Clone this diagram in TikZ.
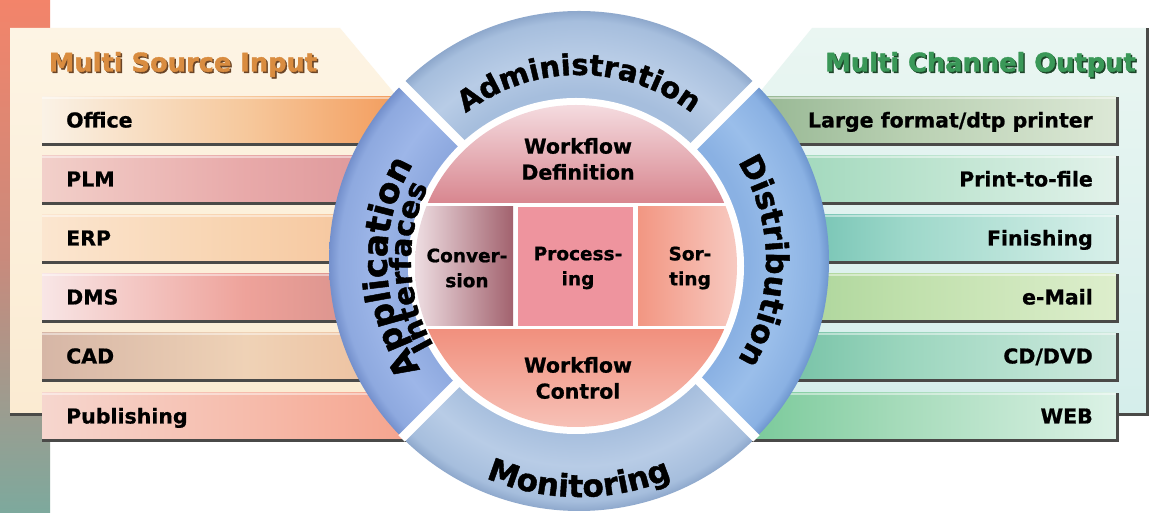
\documentclass[tikz,border=0pt]{standalone}
\usepackage{fontspec}
\usetikzlibrary{decorations.text}
\newfontfamily\djv{DejaVu Sans}[BoldFeatures={FakeBold=0.8}]
\newfontfamily\djvh{DejaVu Sans}[BoldFeatures={FakeBold=1.4}]
\newcommand\fbar{\djv\bfseries\fontsize{20.5}{26}\selectfont}
\newcommand\fmid{\djv\bfseries\fontsize{18.5}{25}\selectfont}
\newcommand\fttl{\djvh\bfseries\fontsize{25.7}{30}\selectfont}
\newcommand\fadm{\djvh\bfseries\fontsize{29}{30}\selectfont}
\newcommand\fmon{\djvh\bfseries\fontsize{31}{32}\selectfont}
\newcommand\fdis{\djvh\bfseries\fontsize{31}{32}\selectfont}
\newcommand\fapp{\djvh\bfseries\fontsize{34}{35}\selectfont}
\newcommand\fint{\djvh\bfseries\fontsize{29}{30}\selectfont}
% colours
\definecolor{stripeT}{HTML}{F3846A}\definecolor{stripeM}{HTML}{C98A7C}\definecolor{stripeB}{HTML}{7DA99D}
\definecolor{lpanT}{HTML}{FDF4E4}\definecolor{lpanB}{HTML}{FBEBD2}
\definecolor{rpanT}{HTML}{EAF6F2}\definecolor{rpanB}{HTML}{D5EEEB}
\definecolor{barsh}{HTML}{4A4A48}
\definecolor{srcC}{HTML}{D98C40}\definecolor{srcS}{HTML}{6A4426}
\definecolor{outC}{HTML}{3A9858}\definecolor{outS}{HTML}{1C4428}
% left bars
\definecolor{ofA}{HTML}{FAF2E6}\definecolor{ofB}{HTML}{F6C89C}\definecolor{ofC}{HTML}{F28E48}
\definecolor{plA}{HTML}{F2D0CA}\definecolor{plB}{HTML}{E8A9A9}\definecolor{plC}{HTML}{D88E92}
\definecolor{erA}{HTML}{FBE6D0}\definecolor{erB}{HTML}{F8D2AE}\definecolor{erC}{HTML}{F4BC90}
\definecolor{dmA}{HTML}{F8E6E6}\definecolor{dmB}{HTML}{EEA29A}\definecolor{dmC}{HTML}{C98682}
\definecolor{caA}{HTML}{D6B6A6}\definecolor{caB}{HTML}{EFD2B6}\definecolor{caC}{HTML}{ECB894}
\definecolor{puA}{HTML}{F6D6CE}\definecolor{puB}{HTML}{F6BCAC}\definecolor{puC}{HTML}{F59E86}
% right bars
\definecolor{lfA}{HTML}{8AAE88}\definecolor{lfB}{HTML}{B9D0B2}\definecolor{lfC}{HTML}{DCE8D6}
\definecolor{ptA}{HTML}{8FD0B0}\definecolor{ptB}{HTML}{B8E2CC}\definecolor{ptC}{HTML}{E2F2EA}
\definecolor{fiA}{HTML}{4AAE9C}\definecolor{fiB}{HTML}{9ED8CA}\definecolor{fiC}{HTML}{D8F0EA}
\definecolor{emA}{HTML}{9CCC8C}\definecolor{emB}{HTML}{C0E0AC}\definecolor{emC}{HTML}{DDEECC}
\definecolor{cdA}{HTML}{5CB496}\definecolor{cdB}{HTML}{9CD6BE}\definecolor{cdC}{HTML}{CFEADF}
\definecolor{weA}{HTML}{6CC490}\definecolor{weB}{HTML}{A8DCBC}\definecolor{weC}{HTML}{DCF2E6}
% ring
\definecolor{admA}{HTML}{A6BEDD}\definecolor{admB}{HTML}{B8CCE6}\definecolor{admC}{HTML}{8EA8CC}
\definecolor{appA}{HTML}{8EA9DF}\definecolor{appB}{HTML}{9DB6E8}\definecolor{appC}{HTML}{7490CC}
\definecolor{disA}{HTML}{8AB1E3}\definecolor{disB}{HTML}{9ABEEA}\definecolor{disC}{HTML}{6E96CE}
% disc
\definecolor{defT}{HTML}{F5DDE1}\definecolor{defB}{HTML}{D8868F}
\definecolor{cvL}{HTML}{F2E4E8}\definecolor{cvR}{HTML}{A2626E}
\definecolor{proc}{HTML}{EE949E}
\definecolor{soL}{HTML}{F29682}\definecolor{soR}{HTML}{F8CEC6}
\definecolor{ctT}{HTML}{F1907E}\definecolor{ctB}{HTML}{F7C4BA}
\pgfdeclareradialshading{admshade}{\pgfpointorigin}{color(0bp)=(admA); color(17bp)=(admA); color(20.5bp)=(admB); color(24bp)=(admA); color(25bp)=(admC); color(50bp)=(admC)}
\pgfdeclareradialshading{appshade}{\pgfpointorigin}{color(0bp)=(appA); color(17bp)=(appA); color(20.5bp)=(appB); color(24bp)=(appA); color(25bp)=(appC); color(50bp)=(appC)}
\pgfdeclareradialshading{disshade}{\pgfpointorigin}{color(0bp)=(disA); color(17bp)=(disA); color(20.5bp)=(disB); color(24bp)=(disA); color(25bp)=(disC); color(50bp)=(disC)}
\tikzset{
  barlabel/.style={font=\fbar, inner sep=0pt, text height=15pt, text depth=0pt, text=black},
  ttl/.style={font=\fttl, inner sep=0pt, text height=19pt, text depth=0pt},
  midtxt/.style={align=center, inner sep=0pt, text=black},
  barhi/.style={fill=white, opacity=0.45},
  gapline/.style={white, line width=9pt},
}
\newcommand\mkleftbar[6]{%
  \shade[left color=#4, right color=#6, middle color=#5] (42,#1-23) rectangle (450,#1+23);
  \fill[barhi] (42,#1+21) rectangle (450,#1+23);
  \fill[barsh] (42,#1-26) rectangle (450,#1-23);
  \node[barlabel, anchor=west] (#2) at (66,#1) {#3};
}
\newcommand\mkrightbar[6]{%
  \shade[left color=#4, right color=#6, middle color=#5] (700,#1-23) rectangle (1116,#1+23);
  \fill[barhi] (700,#1+21) rectangle (1116,#1+23);
  \fill[barsh] (700,#1-26) rectangle (1119,#1-23);
  \fill[barsh] (1116,#1-26) rectangle (1119,#1+23);
  \node[barlabel, anchor=east] (#2) at (1093,#1) {#3};
}
\newcommand\mkseg[2]{%
  \begin{scope}
    \clip (O) -- +(#1:400) -- +(#1+45:400) -- +(#1+90:400) -- cycle;
    \shade[shading=#2] (O) circle[radius=250];
  \end{scope}
}
\begin{document}
\begin{tikzpicture}[x=1pt, y=1pt]
\useasboundingbox (0,0) rectangle (1154,513);
\fill[white] (0,0) rectangle (1154,513);
\coordinate (O) at (579,252);
\coordinate (I) at (576,247);
% left stripe
\shade[top color=stripeT, bottom color=stripeB, middle color=stripeM] (0,0) rectangle (50,513);
% panels
\shade[top color=lpanT, bottom color=lpanB] (10,485) -- (340,485) -- (440,365) -- (440,100) -- (10,100) -- cycle;
\fill[barsh] (10,97) rectangle (42,100);
\shade[top color=rpanT, bottom color=rpanB] (812,485) -- (1146,485) -- (1146,100) -- (720,100) -- (720,372) -- cycle;
\fill[barsh] (1146,97) rectangle (1149,485);
\fill[barsh] (1116,97) rectangle (1149,100);
% titles
\node[ttl, text=srcS] (srcTs) at (184.5,449.5) {Multi Source Input};
\node[ttl, text=srcC] (srcT) at (183,451) {Multi Source Input};
\node[ttl, text=outS] (outTs) at (982,449.5) {Multi Channel Output};
\node[ttl, text=outC] (outT) at (980.5,451) {Multi Channel Output};
% left bars
\mkleftbar{393}{office}{Office}{ofA}{ofB}{ofC}
\mkleftbar{334}{plm}{PLM}{plA}{plB}{plC}
\mkleftbar{275}{erp}{ERP}{erA}{erB}{erC}
\mkleftbar{216}{dms}{DMS}{dmA}{dmB}{dmC}
\mkleftbar{157}{cad}{CAD}{caA}{caB}{caC}
\mkleftbar{97}{publ}{Publishing}{puA}{puB}{puC}
% right bars
\mkrightbar{393}{large}{Large format/dtp printer}{lfA}{lfB}{lfC}
\mkrightbar{334}{ptf}{Print-to-file}{ptA}{ptB}{ptC}
\mkrightbar{275}{fin}{Finishing}{fiA}{fiB}{fiC}
\mkrightbar{216}{email}{e-Mail}{emA}{emB}{emC}
\mkrightbar{157}{cddvd}{CD/DVD}{cdA}{cdB}{cdC}
\mkrightbar{97}{web}{WEB}{weA}{weB}{weC}
% ring segments
\mkseg{45}{admshade}
\mkseg{135}{appshade}
\mkseg{225}{admshade}
\mkseg{-45}{disshade}
\foreach \a in {45,135,225,315} \draw[gapline] (O) -- +(\a:251);
% inner disc
\fill[white] (I) circle[radius=168];
\begin{scope}
  \clip (I) circle[radius=161];
  \shade[top color=defT, bottom color=defB] (405,310) rectangle (750,410);
  \shade[left color=cvL, right color=cvR] (410,187) rectangle (513,306);
  \fill[proc] (518,187) rectangle (633,306);
  \shade[left color=soL, right color=soR] (638,187) rectangle (745,306);
  \shade[top color=ctT, bottom color=ctB] (405,80) rectangle (750,183);
\end{scope}
% disc texts
\node[midtxt, font=\fbar] (wdef) at (578,354) {Workflow\\Definition};
\node[midtxt, font=\fmid] (conv) at (467,245) {Conver-\\sion};
\node[midtxt, font=\fmid] (procn) at (578,245) {Process-\\ing};
\node[midtxt, font=\fmid] (sort) at (690,245) {Sor-\\ting};
\node[midtxt, font=\fbar] (wctl) at (578,135) {Workflow\\Control};
% ring texts
\path[decorate, decoration={text along path, text={|\fadm|Administration}, text align=center}]
  (O) ++(160:186) arc[start angle=160, end angle=20, radius=186];
\path[decorate, decoration={text along path, text={|\fmon|Monitoring}, text align=center}]
  (O) ++(200:236) arc[start angle=200, end angle=340, radius=236];
\path[decorate, decoration={text along path, text={|\fdis|Distribution}, text align=center}]
  (O) ++(70:187) arc[start angle=70, end angle=-70, radius=187];
\path[decorate, decoration={text along path, text={|\fapp|Application}, text align=center}]
  (O) ++(252:192) arc[start angle=252, end angle=112, radius=192];
\path[decorate, decoration={text along path, text={|\fint|Interfaces}, text align=center}]
  (O) ++(252:168) arc[start angle=252, end angle=112, radius=168];
\end{tikzpicture}
\end{document}
